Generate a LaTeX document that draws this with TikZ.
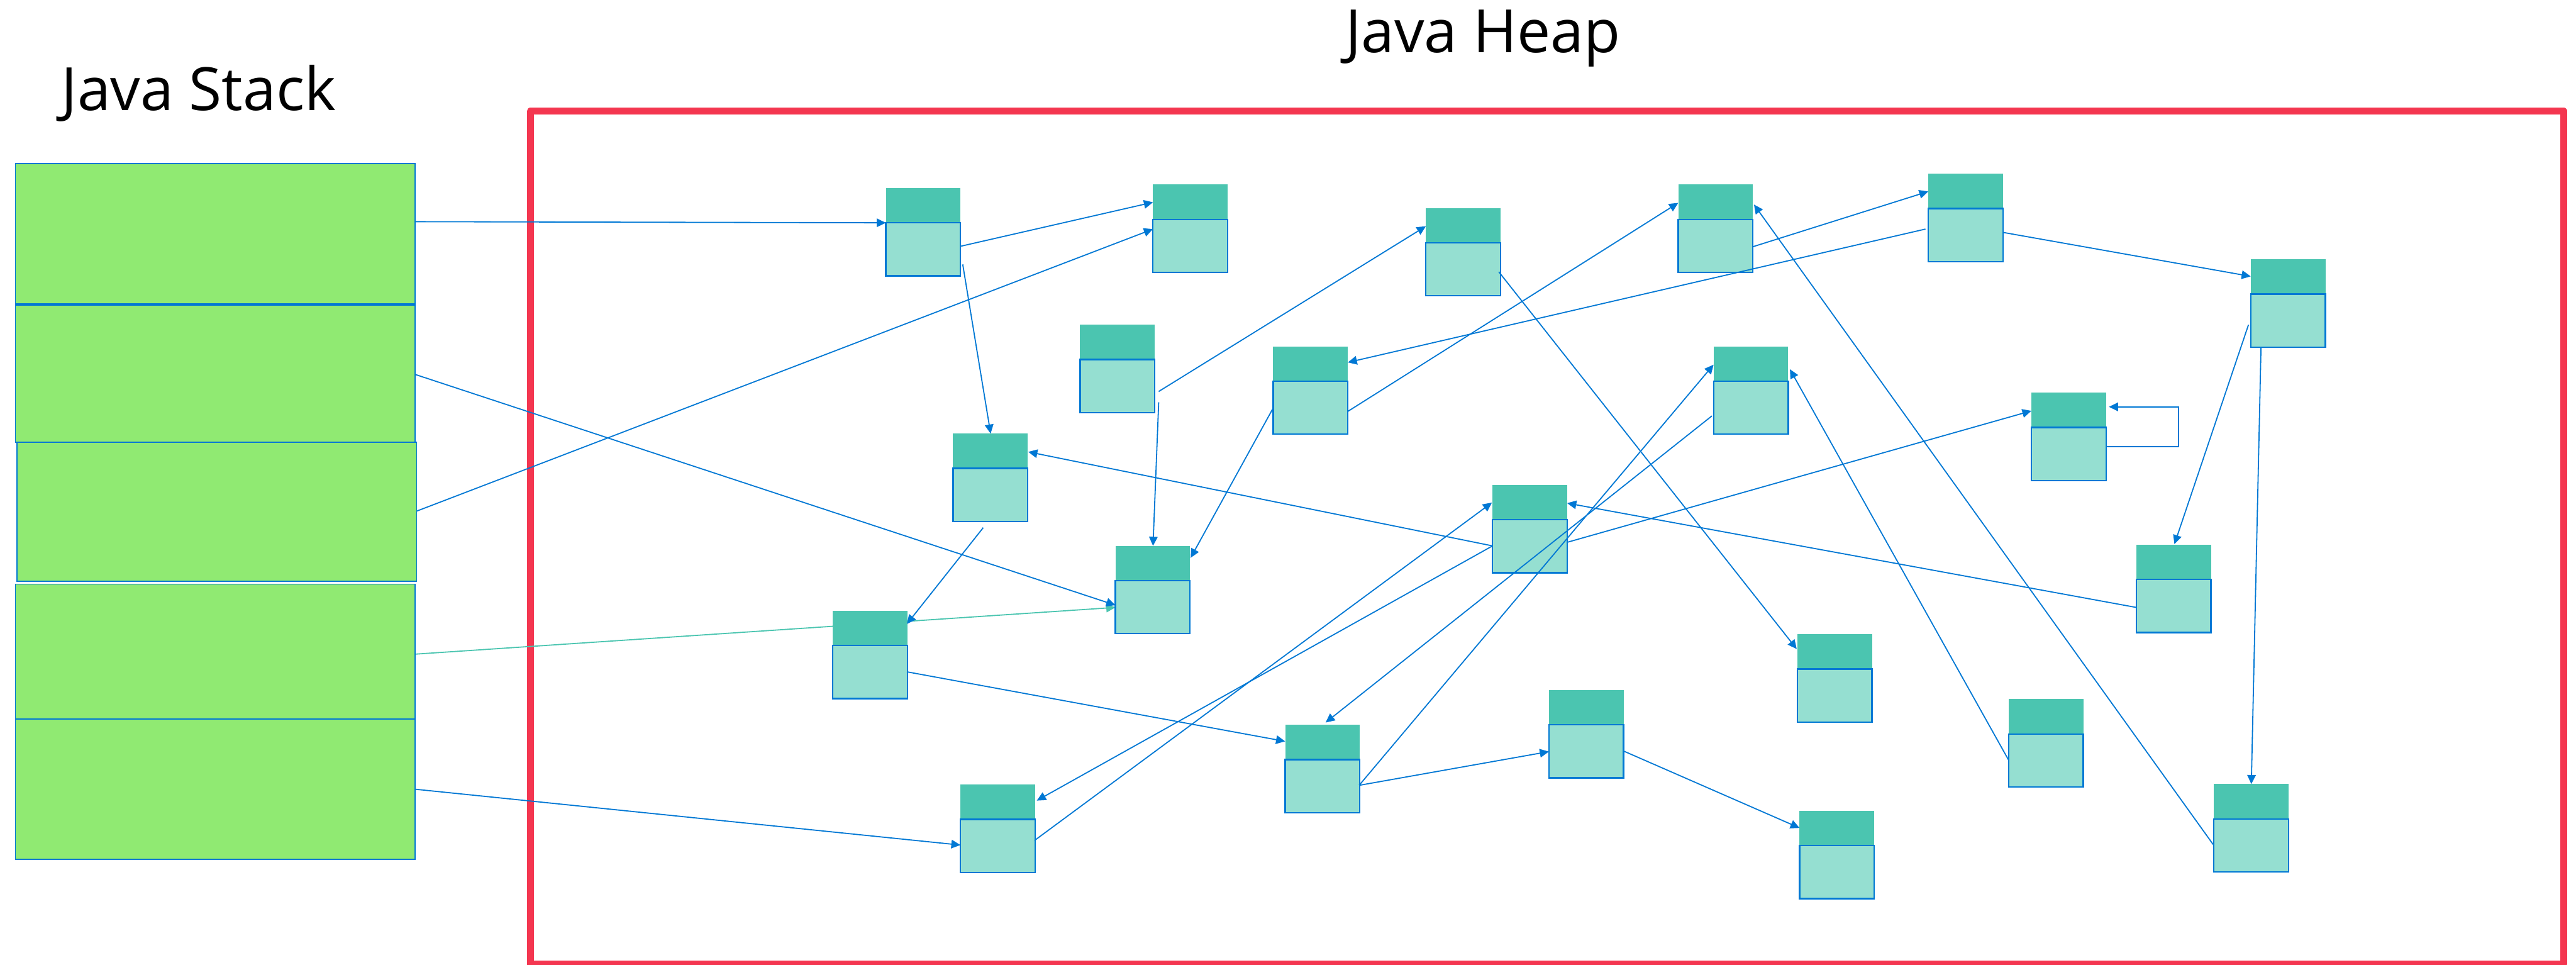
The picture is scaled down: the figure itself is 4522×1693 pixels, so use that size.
\documentclass[tikz,border=0pt]{standalone}
\usepackage{fontspec}
\setmainfont{Open Sans}
\usetikzlibrary{arrows.meta,calc}

\definecolor{stackgreen}{HTML}{90EA72}
\definecolor{edgeblue}{HTML}{0078D4}
\definecolor{hdrteal}{HTML}{4BC5B0}
\definecolor{bodyteal}{HTML}{95DFD1}
\definecolor{heapred}{HTML}{F43650}

\pgfdeclarelayer{under}
\pgfsetlayers{under,main}

\tikzset{
  stackframe/.style = {fill=stackgreen, draw=edgeblue, line width=0.02cm,
    inner sep=0pt, outer sep=0pt, minimum width=7.01cm, anchor=north west},
  hdr/.style  = {fill=hdrteal, inner sep=0pt, outer sep=0pt,
    minimum width=1.31cm, minimum height=0.61cm, anchor=north west},
  bdy/.style  = {fill=bodyteal, draw=edgeblue, line width=0.025cm,
    inner sep=0pt, outer sep=0pt, minimum width=1.31cm, minimum height=0.93cm,
    anchor=north west},
  link/.style = {draw=edgeblue, line width=0.02cm,
    -{Triangle[length=0.16cm,width=0.15cm]}},
  teallink/.style = {link, draw=hdrteal},
  title/.style = {font=\fontsize{29.8pt}{36pt}\selectfont, inner sep=0pt, anchor=base}
}

% one heap object: dark header on top of a framed body
\newcommand\heapobject[3]{%
  \node[hdr] (#1h) at (#2,#3) {};
  \node[bdy] (#1b) at (#1h.south west) {};
}

\begin{document}
\begin{tikzpicture}[x=0.01cm, y=-0.01cm]
  \useasboundingbox (0,0) rectangle (4522,1693);
  \clip (0,0) rectangle (4522,1693);

  % titles
  \node[title] (stacktitle) at (349,194) {Java Stack};
  \node[title] (heaptitle) at (2603,92) {Java Heap};

  % heap border
  \begin{pgfonlayer}{under}
    \draw[heapred, line width=0.12cm, line join=round] (931,195) rectangle (4500,1692);
  \end{pgfonlayer}

  % stack frames
  \node[stackframe, minimum height=2.46cm] (S1) at (27,287) {};
  \node[stackframe, minimum height=2.41cm] (S2) at (27,535) {};
  \node[stackframe, minimum height=2.44cm] (S3) at (30,776) {};
  \node[stackframe, minimum height=2.37cm] (S4) at (27,1025) {};
  \node[stackframe, minimum height=2.46cm] (S5) at (27,1262) {};

  % heap objects
  \heapobject{O1}{1555}{330}
  \heapobject{O2}{2024}{324}
  \heapobject{O3}{2503}{365}
  \heapobject{O4}{2946}{324}
  \heapobject{O5}{3385}{305}
  \heapobject{O6}{3951}{455}
  \heapobject{O7}{1896}{570}
  \heapobject{O8}{2235}{608}
  \heapobject{O9}{3008}{608}
  \heapobject{O10}{3566}{689}
  \heapobject{O11}{1673}{761}
  \heapobject{O12}{2620}{851}
  \heapobject{O13}{1958}{958}
  \heapobject{O14}{3750}{956}
  \heapobject{O15}{1462}{1072}
  \heapobject{O16}{3155}{1113}
  \heapobject{O17}{2719}{1211}
  \heapobject{O18}{2256}{1272}
  \heapobject{O19}{3526}{1227}
  \heapobject{O20}{1686}{1377}
  \heapobject{O21}{3159}{1423}
  \heapobject{O22}{3886}{1376}

  % references from the stack
  \draw[link] ($(S1.north east)+(0,102)$) -- ($(O1h.north west)+(0,61)$);
  \draw[link] ($(S2.north east)+(0,122)$) -- ($(O13h.north west)+(0,104)$);
  \draw[link] ($(S3.north east)+(0,121)$) -- ($(O2h.north west)+(0,78)$);
  \begin{pgfonlayer}{under}
    \draw[teallink] ($(S4.north east)+(0,123)$) -- ($(O13h.north west)+(0,108)$);
  \end{pgfonlayer}
  \draw[link] ($(S5.north east)+(0,123)$) -- ($(O20h.north west)+(0,106)$);

  % references between heap objects
  \draw[link] ($(O1h.north west)+(132,102)$) -- ($(O2h.north west)+(0,31)$);
  \draw[link] ($(O1h.north west)+(135,134)$) -- ($(O11h.north west)+(66,0)$);
  \draw[link] ($(O7h.north west)+(138,117)$) -- ($(O3h.north west)+(0,32)$);
  \draw[link] ($(O7h.north west)+(138,136)$) -- ($(O13h.north west)+(66,0)$);
  \draw[link] ($(O12h.north west)+(0,107)$) -- ($(O11h.north west)+(132,32)$);
  \draw[link] ($(O8h.north west)+(0,108)$) -- ($(O13h.north west)+(132,21)$);
  \draw[link] ($(O11h.north west)+(53,165)$) -- ($(O15h.north west)+(130,23)$);
  \draw[link] ($(O15h.north west)+(130,107)$) -- ($(O18h.north west)+(0,29)$);
  \draw[link] ($(O20h.north west)+(130,98)$) -- ($(O12h.north west)+(-1,31)$);
  \draw[link] ($(O12h.north west)+(0,107)$) -- ($(O20h.north west)+(134,28)$);
  \draw[link] ($(O3h.north west)+(128,112)$) -- ($(O16h.north west)+(-1,26)$);
  \draw[link] ($(O8h.north west)+(131,114)$) -- ($(O4h.north west)+(0,32)$);
  \draw[link] ($(O22h.north west)+(-1,106)$) -- ($(O4h.north west)+(133,35)$);
  \draw[link] ($(O4h.north west)+(131,109)$) -- ($(O5h.north west)+(0,31)$);
  \draw[link] ($(O5h.north west)+(-5,97)$) -- ($(O8h.north west)+(131,28)$);
  \draw[link] ($(O5h.north west)+(132,103)$) -- ($(O6h.north west)+(0,30)$);
  \draw[link] ($(O6h.north west)+(-4,115)$) -- ($(O14h.north west)+(67,-1)$);
  \draw[link] ($(O6h.north west)+(18,154)$) -- ($(O22h.north west)+(66,0)$);
  \draw[link] ($(O12h.north west)+(130,101)$) -- ($(O10h.north west)+(0,32)$);
  \draw[link] ($(O10h.north west)+(131,95)$) -| ($(O10h.north west)+(258,25)$)
              -- ($(O10h.north west)+(136,25)$);
  \draw[link] ($(O14h.north west)+(0,110)$) -- ($(O12h.north west)+(131,32)$);
  \draw[link] ($(O9h.north west)+(-3,122)$) -- ($(O18h.north west)+(71,-4)$);
  \draw[link] ($(O18h.north west)+(130,106)$) -- ($(O9h.north west)+(0,32)$);
  \draw[link] ($(O18h.north west)+(131,106)$) -- ($(O17h.north west)+(0,108)$);
  \draw[link] ($(O17h.north west)+(131,107)$) -- ($(O21h.north west)+(0,30)$);
  \draw[link] ($(O19h.north west)+(0,107)$) -- ($(O9h.north west)+(134,40)$);
\end{tikzpicture}
\end{document}
